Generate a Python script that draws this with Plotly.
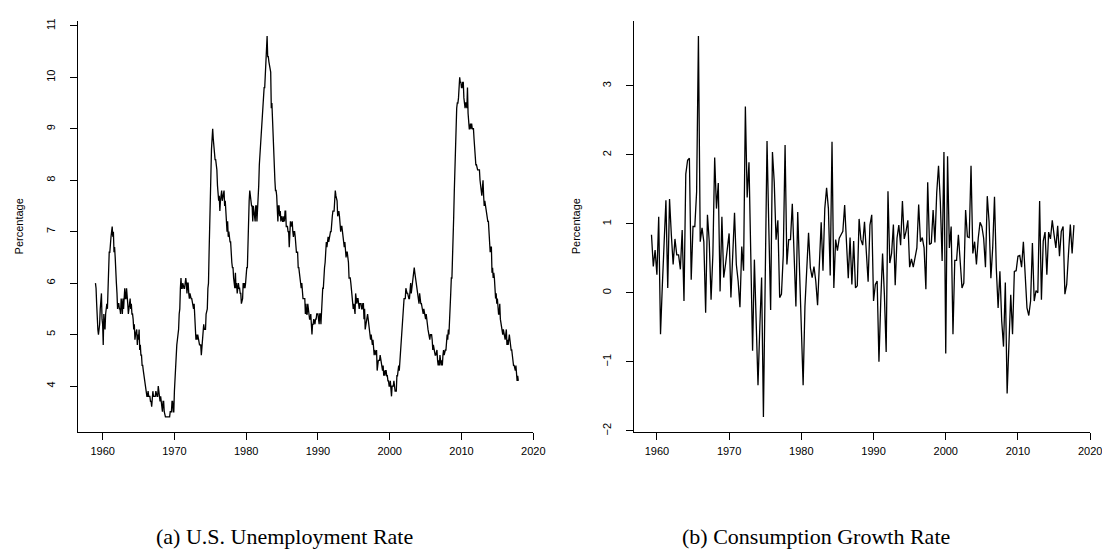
import plotly.graph_objects as go

# U.S. unemployment rate, monthly, Jan 1959 - Dec 2017 (percent)
unemp = [
    6.0, 5.9, 5.6, 5.2, 5.1, 5.0, 5.1, 5.2, 5.5, 5.7, 5.8, 5.3,   # 1959
    5.2, 4.8, 5.4, 5.2, 5.1, 5.4, 5.5, 5.6, 5.5, 6.1, 6.1, 6.6,   # 1960
    6.6, 6.9, 6.9, 7.0, 7.1, 6.9, 7.0, 6.6, 6.7, 6.5, 6.1, 6.0,   # 1961
    5.8, 5.5, 5.6, 5.6, 5.5, 5.5, 5.4, 5.7, 5.6, 5.4, 5.7, 5.5,   # 1962
    5.7, 5.9, 5.7, 5.7, 5.9, 5.6, 5.6, 5.4, 5.5, 5.5, 5.7, 5.5,   # 1963
    5.6, 5.4, 5.4, 5.3, 5.1, 5.2, 4.9, 5.0, 5.1, 5.1, 4.8, 5.0,   # 1964
    4.9, 5.1, 4.7, 4.8, 4.6, 4.6, 4.4, 4.4, 4.3, 4.2, 4.1, 4.0,   # 1965
    4.0, 3.8, 3.8, 3.8, 3.9, 3.8, 3.8, 3.8, 3.7, 3.7, 3.6, 3.8,   # 1966
    3.9, 3.8, 3.8, 3.8, 3.8, 3.9, 3.8, 3.8, 3.8, 4.0, 3.9, 3.8,   # 1967
    3.7, 3.8, 3.7, 3.5, 3.5, 3.7, 3.7, 3.5, 3.4, 3.4, 3.4, 3.4,   # 1968
    3.4, 3.4, 3.4, 3.4, 3.4, 3.5, 3.5, 3.5, 3.7, 3.7, 3.5, 3.5,   # 1969
    3.9, 4.2, 4.4, 4.6, 4.8, 4.9, 5.0, 5.1, 5.4, 5.5, 5.9, 6.1,   # 1970
    5.9, 5.9, 6.0, 5.9, 5.9, 5.9, 6.0, 6.1, 6.0, 5.8, 6.0, 6.0,   # 1971
    5.8, 5.7, 5.8, 5.7, 5.7, 5.7, 5.6, 5.6, 5.5, 5.6, 5.3, 5.2,   # 1972
    4.9, 5.0, 4.9, 5.0, 4.9, 4.9, 4.8, 4.8, 4.8, 4.6, 4.8, 4.9,   # 1973
    5.1, 5.2, 5.1, 5.1, 5.1, 5.4, 5.5, 5.5, 5.9, 6.0, 6.6, 7.2,   # 1974
    8.1, 8.1, 8.6, 8.8, 9.0, 8.8, 8.6, 8.4, 8.4, 8.4, 8.3, 8.2,   # 1975
    7.9, 7.7, 7.6, 7.7, 7.4, 7.6, 7.8, 7.8, 7.6, 7.7, 7.8, 7.8,   # 1976
    7.5, 7.6, 7.4, 7.2, 7.0, 7.2, 6.9, 7.0, 6.8, 6.8, 6.8, 6.4,   # 1977
    6.4, 6.3, 6.3, 6.1, 6.0, 5.9, 6.2, 5.9, 6.0, 5.8, 5.9, 6.0,   # 1978
    5.9, 5.9, 5.8, 5.8, 5.6, 5.7, 5.7, 6.0, 5.9, 6.0, 5.9, 6.0,   # 1979
    6.3, 6.3, 6.3, 6.9, 7.5, 7.6, 7.8, 7.7, 7.5, 7.5, 7.5, 7.2,   # 1980
    7.5, 7.4, 7.4, 7.2, 7.5, 7.5, 7.2, 7.4, 7.6, 7.9, 8.3, 8.5,   # 1981
    8.6, 8.9, 9.0, 9.3, 9.4, 9.6, 9.8, 9.8, 10.1, 10.4, 10.8, 10.8,  # 1982
    10.4, 10.4, 10.3, 10.2, 10.1, 10.1, 9.4, 9.5, 9.2, 8.8, 8.5, 8.3,  # 1983
    8.0, 7.8, 7.8, 7.7, 7.4, 7.2, 7.5, 7.5, 7.3, 7.4, 7.2, 7.3,   # 1984
    7.3, 7.2, 7.2, 7.3, 7.2, 7.4, 7.4, 7.1, 7.1, 7.1, 7.0, 7.0,   # 1985
    6.7, 7.2, 7.2, 7.1, 7.2, 7.2, 7.0, 6.9, 7.0, 7.0, 6.9, 6.6,   # 1986
    6.6, 6.6, 6.6, 6.3, 6.3, 6.2, 6.1, 6.0, 5.9, 6.0, 5.8, 5.7,   # 1987
    5.7, 5.7, 5.7, 5.4, 5.6, 5.4, 5.4, 5.6, 5.4, 5.4, 5.3, 5.3,   # 1988
    5.4, 5.2, 5.0, 5.2, 5.2, 5.3, 5.2, 5.2, 5.3, 5.3, 5.4, 5.4,   # 1989
    5.4, 5.3, 5.2, 5.4, 5.4, 5.2, 5.5, 5.7, 5.9, 5.9, 6.2, 6.3,   # 1990
    6.4, 6.6, 6.8, 6.7, 6.9, 6.9, 6.8, 6.9, 6.9, 7.0, 7.0, 7.3,   # 1991
    7.3, 7.4, 7.4, 7.4, 7.6, 7.8, 7.7, 7.6, 7.6, 7.3, 7.4, 7.4,   # 1992
    7.3, 7.1, 7.0, 7.1, 7.1, 7.0, 6.9, 6.8, 6.7, 6.8, 6.6, 6.5,   # 1993
    6.6, 6.6, 6.5, 6.4, 6.1, 6.1, 6.1, 6.0, 5.9, 5.8, 5.6, 5.5,   # 1994
    5.6, 5.4, 5.4, 5.8, 5.6, 5.6, 5.7, 5.7, 5.6, 5.5, 5.6, 5.6,   # 1995
    5.6, 5.5, 5.5, 5.6, 5.6, 5.3, 5.5, 5.1, 5.2, 5.2, 5.4, 5.4,   # 1996
    5.3, 5.2, 5.2, 5.1, 4.9, 5.0, 4.9, 4.8, 4.9, 4.7, 4.6, 4.7,   # 1997
    4.6, 4.6, 4.7, 4.3, 4.4, 4.5, 4.5, 4.5, 4.6, 4.5, 4.4, 4.4,   # 1998
    4.3, 4.4, 4.2, 4.3, 4.2, 4.3, 4.3, 4.2, 4.2, 4.1, 4.1, 4.0,   # 1999
    4.0, 4.1, 4.0, 3.8, 4.0, 4.0, 4.0, 4.1, 3.9, 3.9, 3.9, 3.9,   # 2000
    4.2, 4.2, 4.3, 4.4, 4.3, 4.5, 4.6, 4.9, 5.0, 5.3, 5.5, 5.7,   # 2001
    5.7, 5.7, 5.7, 5.9, 5.8, 5.8, 5.8, 5.7, 5.7, 5.7, 5.9, 6.0,   # 2002
    5.8, 5.9, 5.9, 6.0, 6.1, 6.3, 6.2, 6.1, 6.1, 6.0, 5.8, 5.7,   # 2003
    5.7, 5.6, 5.8, 5.6, 5.6, 5.6, 5.5, 5.4, 5.4, 5.5, 5.4, 5.4,   # 2004
    5.3, 5.4, 5.2, 5.2, 5.1, 5.0, 5.0, 4.9, 5.0, 5.0, 5.0, 4.9,   # 2005
    4.7, 4.8, 4.7, 4.7, 4.6, 4.6, 4.7, 4.7, 4.5, 4.4, 4.5, 4.4,   # 2006
    4.6, 4.5, 4.4, 4.5, 4.4, 4.6, 4.7, 4.6, 4.7, 4.7, 4.7, 5.0,   # 2007
    5.0, 4.9, 5.1, 5.0, 5.4, 5.6, 5.8, 6.1, 6.1, 6.5, 6.8, 7.3,   # 2008
    7.8, 8.3, 8.7, 9.0, 9.4, 9.5, 9.5, 9.6, 9.8, 10.0, 9.9, 9.9,  # 2009
    9.8, 9.8, 9.9, 9.9, 9.6, 9.4, 9.4, 9.5, 9.5, 9.4, 9.8, 9.3,   # 2010
    9.1, 9.0, 9.0, 9.1, 9.0, 9.1, 9.0, 9.0, 9.0, 8.8, 8.6, 8.5,   # 2011
    8.3, 8.3, 8.2, 8.2, 8.2, 8.2, 8.2, 8.0, 7.8, 7.8, 7.7, 7.9,   # 2012
    8.0, 7.7, 7.5, 7.6, 7.5, 7.5, 7.3, 7.2, 7.2, 7.2, 6.9, 6.7,   # 2013
    6.6, 6.7, 6.7, 6.2, 6.3, 6.1, 6.2, 6.1, 5.9, 5.7, 5.8, 5.6,   # 2014
    5.7, 5.5, 5.4, 5.4, 5.6, 5.3, 5.2, 5.1, 5.0, 5.0, 5.1, 5.0,   # 2015
    4.9, 4.9, 5.0, 5.1, 4.8, 4.9, 4.8, 4.9, 5.0, 4.9, 4.7, 4.7,   # 2016
    4.7, 4.6, 4.4, 4.4, 4.4, 4.3, 4.3, 4.4, 4.2, 4.1, 4.2, 4.1,   # 2017
]
unemp_start = 1959.0
unemp_freq = 12

# Consumption growth rate, quarterly, 1959Q2 - 2017Q4 (percent)
cons = [
    0.84, 0.38, 0.62, 0.26, 1.10, -0.60, 0.10, 0.75, 1.34, 0.07,
    1.36, 0.84, 0.41, 0.78, 0.55, 0.55, 0.34, 0.91, -0.12, 1.72,
    1.92, 1.95, 0.19, 0.96, 0.96, 1.46, 3.72, 0.74, 0.94, 0.74,
    -0.29, 1.13, 0.74, -0.10, 0.55, 1.96, 1.22, 1.59, 0.02, 1.10,
    0.22, 0.41, 0.69, 0.86, -0.07, 0.62, 1.16, 0.41, 0.17, -0.21,
    0.67, 0.32, 2.70, 1.38, 1.89, 0.55, -0.84, 0.48, -0.50, -1.34,
    -0.50, 0.22, -1.80, 0.55, 2.20, 0.93, -0.25, 2.04, 1.60, 0.77,
    1.05, -0.07, -0.02, 0.55, 2.14, 0.41, 0.77, 0.77, 1.29, 0.55,
    -0.20, 1.17, 0.40, -0.40, -1.34, -0.20, 0.30, 0.87, 0.36, 0.22,
    0.38, 0.17, -0.18, 0.46, 1.02, 0.32, 1.22, 1.52, 1.22, 0.25,
    2.19, 0.07, 0.77, 0.61, 0.79, 0.84, 0.89, 1.27, 0.81, 0.21,
    0.80, 0.12, 0.75, 0.07, 0.10, 1.07, 0.77, 0.69, 1.03, 0.57,
    0.16, 0.98, 1.13, -0.12, 0.12, 0.17, -1.00, -0.12, 0.57, -0.02,
    -0.86, 1.47, 0.43, 0.57, 0.99, 0.11, 0.79, 0.98, 0.69, 1.33,
    0.78, 0.89, 1.05, 0.37, 0.49, 0.37, 0.53, 0.65, 1.28, 0.74,
    0.80, 0.65, 0.05, 1.60, 0.70, 0.72, 1.20, 0.73, 1.45, 1.84,
    1.32, 0.46, 2.04, -0.88, 1.98, 0.65, 0.96, -0.60, 0.47, 0.47,
    0.84, 0.36, 0.07, 0.14, 1.20, 0.81, 0.80, 1.84, 0.57, 0.74,
    0.41, 0.79, 1.02, 0.96, 0.79, 0.37, 1.40, 1.03, 0.21, 0.65,
    1.39, 0.36, -0.22, 0.31, -0.41, -0.78, 0.15, -1.46, -0.60, -0.03,
    -0.60, 0.31, 0.32, 0.53, 0.54, 0.37, 0.74, 0.17, -0.22, -0.33,
    -0.12, 0.72, -0.12, 0.03, 0.00, 1.33, -0.10, 0.75, 0.88, 0.26,
    0.88, 0.78, 1.05, 0.84, 0.65, 0.97, 0.53, 0.89, 0.96, -0.02,
    0.12, 0.57, 0.99, 0.57, 0.98,
]
cons_start = 1959.25
cons_freq = 4

year_ticks = [1960, 1970, 1980, 1990, 2000, 2010, 2020]
unemp_ticks = [4, 5, 6, 7, 8, 9, 10, 11]
cons_ticks = [-2, -1, 0, 1, 2, 3]

caption_a = "(a) U.S. Unemployment Rate"
caption_b = "(b) Consumption Growth Rate"
ylabel = "Percentage"

x_u = [unemp_start + i / unemp_freq for i in range(len(unemp))]
x_c = [cons_start + i / cons_freq for i in range(len(cons))]

W, H = 1110, 552
line_style = dict(color="black", width=1.3)

fig = go.Figure()
fig.add_trace(go.Scatter(x=x_u, y=unemp, mode="lines", line=line_style,
                         xaxis="x", yaxis="y", hoverinfo="x+y"))
fig.add_trace(go.Scatter(x=x_c, y=cons, mode="lines", line=line_style,
                         xaxis="x2", yaxis="y2", hoverinfo="x+y"))

tickfont = dict(family="Liberation Sans, Arial, sans-serif", size=11, color="black")
common = dict(showgrid=False, zeroline=False, showline=True, linecolor="black",
              linewidth=1, ticks="outside", ticklen=7, tickwidth=1,
              tickcolor="black", tickfont=tickfont, mirror=False)

ydom = [1 - 426 / H, 1 - 11 / H]

fig.update_layout(
    width=W, height=H,
    margin=dict(l=0, r=0, t=0, b=0),
    paper_bgcolor="white", plot_bgcolor="white",
    showlegend=False,
    xaxis=dict(domain=[71 / W, 531 / W], range=[1956.6, 2020.0],
               tickvals=year_ticks, anchor="y", ticklabelstandoff=2, **common),
    yaxis=dict(domain=ydom, range=[3.104, 11.096], tickvals=unemp_ticks,
               tickangle=-90, anchor="x", ticklabelstandoff=11, **common),
    xaxis2=dict(domain=[633 / W, 1094 / W], range=[1956.85, 2020.0],
                tickvals=year_ticks, anchor="y2", ticklabelstandoff=2, **common),
    yaxis2=dict(domain=ydom, range=[-2.02, 3.94], tickvals=cons_ticks,
                tickangle=-90, anchor="x2", ticklabelstandoff=11, **common),
)

lab_font = dict(family="Liberation Sans, Arial, sans-serif", size=11, color="black")
cap_font = dict(family="Liberation Serif, Times New Roman, serif", size=22, color="black")
ymid = 1 - 218.5 / H
fig.add_annotation(text=ylabel, x=11 / W, y=ymid, xref="paper", yref="paper",
                   textangle=-90, showarrow=False, font=lab_font,
                   xanchor="center", yanchor="middle")
fig.add_annotation(text=ylabel, x=574 / W, y=ymid, xref="paper", yref="paper",
                   textangle=-90, showarrow=False, font=lab_font,
                   xanchor="center", yanchor="middle")
fig.add_annotation(text=caption_a, x=280 / W, y=1 - 531 / H, xref="paper", yref="paper",
                   showarrow=False, font=cap_font, xanchor="center", yanchor="middle")
fig.add_annotation(text=caption_b, x=817 / W, y=1 - 531 / H, xref="paper", yref="paper",
                   showarrow=False, font=cap_font, xanchor="center", yanchor="middle")

fig.write_html("out.html")
